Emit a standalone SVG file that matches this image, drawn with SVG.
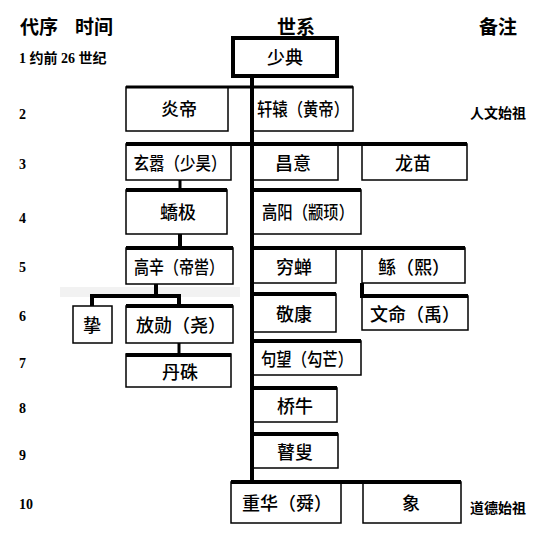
<svg xmlns="http://www.w3.org/2000/svg" width="540" height="536" viewBox="0 0 540 536">
<style>
.bg{fill:#fff}
.box{fill:#fff;stroke:#000;stroke-width:1.5}
.tbox{fill:#fff;stroke:#000;stroke-width:4}
.lbl{font-family:"Noto Sans CJK SC","Noto Sans",sans-serif;font-size:18px;font-weight:500;fill:#000;text-anchor:middle}
.hdr{font-family:"Noto Sans CJK SC","Noto Sans",sans-serif;font-size:19px;font-weight:bold;fill:#000}
.num{font-family:"Liberation Serif","Noto Sans CJK SC",serif;font-size:14px;font-weight:bold;fill:#000}
.note{font-family:"Noto Sans CJK SC","Noto Sans",sans-serif;font-size:14px;font-weight:bold;fill:#000;text-anchor:middle}
.thick{stroke:#000;stroke-width:4;fill:none}
.mid{stroke:#000;stroke-width:3;fill:none}
</style>
<rect class="bg" x="0" y="0" width="540" height="536"/>
<rect x="60" y="287" width="180" height="10" fill="#f2f2f2"/>

<g id="headers">
<text class="hdr" x="20" y="34">代序</text>
<text class="hdr" x="75" y="34">时间</text>
<text class="hdr" x="296" y="34" text-anchor="middle">世系</text>
<text class="hdr" x="498" y="34" text-anchor="middle">备注</text>
</g>

<g id="rows">
<text class="num" x="19" y="63">1 约前 26 世纪</text>
<text class="num" x="19" y="119">2</text>
<text class="num" x="19" y="169">3</text>
<text class="num" x="19" y="223">4</text>
<text class="num" x="19" y="272">5</text>
<text class="num" x="19" y="321">6</text>
<text class="num" x="19" y="368">7</text>
<text class="num" x="19" y="413">8</text>
<text class="num" x="19" y="460">9</text>
<text class="num" x="19" y="509">10</text>
</g>

<g id="n-shaodian"><rect class="tbox" x="233" y="38" width="104" height="38"/><text class="lbl" x="285" y="64">少典</text></g>
<g id="n-yandi"><rect class="box" x="126" y="87" width="102" height="44"/><text class="lbl" x="179" y="116">炎帝</text></g>
<g id="n-xuanyuan"><rect class="box" x="253" y="87" width="100" height="44"/><text class="lbl" x="303" y="116" textLength="92" lengthAdjust="spacingAndGlyphs">轩辕（黄帝）</text></g>
<g id="n-xuanxiao"><rect class="box" x="126" y="144" width="105" height="36"/><text class="lbl" x="180" y="170" textLength="93" lengthAdjust="spacingAndGlyphs">玄嚣（少昊）</text></g>
<g id="n-changyi"><rect class="box" x="253" y="144" width="85" height="36"/><text class="lbl" x="293" y="170">昌意</text></g>
<g id="n-longmiao"><rect class="box" x="362" y="144" width="105" height="36"/><text class="lbl" x="413" y="170">龙苗</text></g>
<g id="n-jiaoji"><rect class="box" x="126" y="190" width="101" height="44"/><text class="lbl" x="178" y="219">蟜极</text></g>
<g id="n-gaoyang"><rect class="box" x="253" y="190" width="108" height="44"/><text class="lbl" x="308" y="219" textLength="92" lengthAdjust="spacingAndGlyphs">高阳（颛顼）</text></g>
<g id="n-gaoxin"><rect class="box" x="126" y="248" width="107" height="36"/><text class="lbl" x="179" y="274" textLength="90" lengthAdjust="spacingAndGlyphs">高辛（帝喾）</text></g>
<g id="n-qiongchan"><rect class="box" x="253" y="248" width="83" height="35"/><text class="lbl" x="294" y="274">穷蝉</text></g>
<g id="n-gun"><rect class="box" x="362" y="248" width="103" height="35"/><text class="lbl" x="414" y="274">鲧（熙）</text></g>
<g id="n-zhi"><rect class="box" x="73" y="306" width="39" height="37"/><text class="lbl" x="92" y="332">挚</text></g>
<g id="n-fangxun"><rect class="box" x="126" y="306" width="107" height="37"/><text class="lbl" x="181" y="332">放勋（尧）</text></g>
<g id="n-jingkang"><rect class="box" x="253" y="294" width="83" height="38"/><text class="lbl" x="294" y="321">敬康</text></g>
<g id="n-wenming"><rect class="box" x="362" y="296" width="106" height="34"/><text class="lbl" x="415" y="321">文命（禹）</text></g>
<g id="n-danzhu"><rect class="box" x="126" y="354" width="105" height="33"/><text class="lbl" x="180" y="379">丹硃</text></g>
<g id="n-goumang"><rect class="box" x="253" y="341" width="108" height="34"/><text class="lbl" x="307" y="366" textLength="92" lengthAdjust="spacingAndGlyphs">句望（勾芒）</text></g>
<g id="n-qiaoniu"><rect class="box" x="253" y="388" width="84" height="34"/><text class="lbl" x="295" y="413">桥牛</text></g>
<g id="n-gusou"><rect class="box" x="253" y="434" width="85" height="34"/><text class="lbl" x="295" y="459">瞽叟</text></g>
<g id="n-chonghua"><rect class="box" x="231" y="482" width="110" height="41"/><text class="lbl" x="287" y="510">重华（舜）</text></g>
<g id="n-xiang"><rect class="box" x="363" y="482" width="98" height="41"/><text class="lbl" x="411" y="510">象</text></g>

<g id="notes">
<text class="note" x="498" y="118">人文始祖</text>
<text class="note" x="498" y="513">道德始祖</text>
</g>

<g id="connectors">
<line class="thick" x1="252" y1="76" x2="252" y2="484"/>
<line class="mid" x1="126" y1="87" x2="353" y2="87"/>
<line class="thick" x1="126" y1="144" x2="467" y2="144"/>
<line class="mid" x1="180" y1="180" x2="180" y2="190"/>
<line class="thick" x1="126" y1="190" x2="227" y2="190"/>
<line class="thick" x1="252" y1="190" x2="361" y2="190"/>
<line class="thick" x1="180" y1="234" x2="180" y2="248"/>
<line class="thick" x1="126" y1="248" x2="233" y2="248"/>
<line class="thick" x1="252" y1="248" x2="465" y2="248"/>
<line class="thick" x1="156" y1="284" x2="156" y2="296"/>
<polyline class="thick" points="92,306 92,296 179,296 179,306"/>
<line class="thick" x1="126" y1="306" x2="233" y2="306"/>
<line class="thick" x1="252" y1="294" x2="336" y2="294"/>
<polyline class="thick" points="362,283 362,296 468,296"/>
<line class="mid" x1="179" y1="343" x2="179" y2="354"/>
<line class="thick" x1="126" y1="355" x2="231" y2="355"/>
<line class="thick" x1="252" y1="341" x2="361" y2="341"/>
<line class="thick" x1="252" y1="388" x2="337" y2="388"/>
<line class="thick" x1="252" y1="434" x2="338" y2="434"/>
<line class="thick" x1="231" y1="482" x2="461" y2="482"/>
</g>
</svg>
